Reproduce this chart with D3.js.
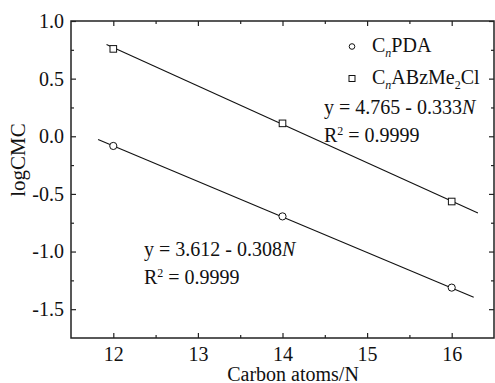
<!DOCTYPE html>
<html lang="en">
<head>
    <meta charset="UTF-8">
    <title>logCMC</title>
    <script src="https://unpkg.com/d3@7.8.5/dist/d3.min.js"></script>
    <style>
        body { margin: 0; background: #fff; }
        text { font-family: "Liberation Serif", "Times New Roman", serif; fill: #111; }
    </style>
</head>
<body>
    <svg width="495" height="383"></svg>
    <script>
        // 数据
        var carbons = [12, 14, 16]
        var pdaValues = [-0.084, -0.695, -1.313]
        var abzValues = [0.758, 0.112, -0.566]
        var xTicks = [12, 13, 14, 15, 16]
        var yTicks = [-1.5, -1.0, -0.5, 0.0, 0.5, 1.0]
        // 拟合直线 y = a + b*N
        var pdaFit = { a: 3.612, b: -0.308, from: 11.82, to: 16.26 }
        var abzFit = { a: 4.765, b: -0.333, from: 11.92, to: 16.31 }

        var svg = d3.select('svg')
        var pLeft = 71, pRight = 494, pTop = 21, pBottom = 338

        var x = d3.scaleLinear().domain([11.5, 16.5]).range([pLeft, pRight])
        var y = d3.scaleLinear().domain([-1.75, 1.0]).range([pBottom, pTop])

        var minorX = [12.5, 13.5, 14.5, 15.5]
        var minorY = [-1.25, -0.75, -0.25, 0.25, 0.75]

        // 用普通连字符代替 unicode 负号
        var fmtY = v => v.toFixed(1)

        function styleAxis(g) {
            g.attr('font-family', 'Liberation Serif').attr('font-size', 20)
            g.selectAll('path').remove()
            g.selectAll('line').attr('stroke', '#222').attr('stroke-width', 1.2)
            g.selectAll('text').attr('fill', '#111').style('font-family', '"Liberation Serif", serif')
        }

        // 主刻度
        svg.append('g').attr('transform', 'translate(0,' + pBottom + ')')
            .call(d3.axisBottom(x).tickValues(xTicks).tickSize(-5).tickPadding(9).tickFormat(d3.format('d')))
            .call(styleAxis)
        svg.append('g').attr('transform', 'translate(' + pLeft + ',0)')
            .call(d3.axisLeft(y).tickValues(yTicks).tickSize(-5).tickPadding(7).tickFormat(fmtY))
            .call(styleAxis)
        svg.append('g').attr('transform', 'translate(0,' + pTop + ')')
            .call(d3.axisTop(x).tickValues(xTicks).tickSize(-5).tickFormat(''))
            .call(styleAxis)
        svg.append('g').attr('transform', 'translate(' + pRight + ',0)')
            .call(d3.axisRight(y).tickValues(yTicks).tickSize(-5).tickFormat(''))
            .call(styleAxis)

        // 次刻度
        svg.append('g').attr('transform', 'translate(0,' + pBottom + ')')
            .call(d3.axisBottom(x).tickValues(minorX).tickSize(-3).tickFormat('')).call(styleAxis)
        svg.append('g').attr('transform', 'translate(0,' + pTop + ')')
            .call(d3.axisTop(x).tickValues(minorX).tickSize(-3).tickFormat('')).call(styleAxis)
        svg.append('g').attr('transform', 'translate(' + pLeft + ',0)')
            .call(d3.axisLeft(y).tickValues(minorY).tickSize(-3).tickFormat('')).call(styleAxis)
        svg.append('g').attr('transform', 'translate(' + pRight + ',0)')
            .call(d3.axisRight(y).tickValues(minorY).tickSize(-3).tickFormat('')).call(styleAxis)

        // 边框
        svg.append('rect')
            .attr('x', pLeft).attr('y', pTop)
            .attr('width', pRight - pLeft).attr('height', pBottom - pTop)
            .attr('fill', 'none').attr('stroke', '#222').attr('stroke-width', 1.5)

        // 拟合线
        var line = d3.line().x(d => x(d[0])).y(d => y(d[1]))
        ;[pdaFit, abzFit].forEach(f => {
            svg.append('path')
                .attr('d', line([[f.from, f.a + f.b * f.from], [f.to, f.a + f.b * f.to]]))
                .attr('stroke', '#111').attr('stroke-width', 1.1).attr('fill', 'none')
        })

        // 数据点
        svg.selectAll('circle.pda').data(carbons).enter()
            .append('circle').attr('class', 'pda')
            .attr('cx', d => x(d))
            .attr('cy', (d, i) => y(pdaValues[i]))
            .attr('r', 3.6)
            .attr('fill', 'white').attr('stroke', '#111').attr('stroke-width', 1)
        svg.selectAll('rect.abz').data(carbons).enter()
            .append('rect').attr('class', 'abz')
            .attr('x', d => x(d) - 3.3)
            .attr('y', (d, i) => y(abzValues[i]) - 3.3)
            .attr('width', 6.6).attr('height', 6.6)
            .attr('fill', 'white').attr('stroke', '#111').attr('stroke-width', 1)

        // 图例
        svg.append('circle').attr('cx', 352).attr('cy', 46.5).attr('r', 2.8)
            .attr('fill', 'white').attr('stroke', '#111').attr('stroke-width', 1)
        svg.append('rect').attr('x', 349).attr('y', 75.5).attr('width', 6).attr('height', 6)
            .attr('fill', 'white').attr('stroke', '#111').attr('stroke-width', 1)

        function sub(t, s, italic) {
            t.append('tspan').text(s).attr('font-size', '12px').attr('dy', 5)
                .attr('font-style', italic ? 'italic' : null)
        }

        var l1 = svg.append('text').attr('x', 372).attr('y', 52).attr('font-size', '20px')
        l1.append('tspan').text('C')
        sub(l1, 'n', true)
        l1.append('tspan').text('PDA').attr('dy', -5)

        var l2 = svg.append('text').attr('x', 372).attr('y', 84).attr('font-size', '20px')
        l2.append('tspan').text('C')
        sub(l2, 'n', true)
        l2.append('tspan').text('ABzMe').attr('dy', -5)
        sub(l2, '2', false)
        l2.append('tspan').text('Cl').attr('dy', -5)

        // 方程
        function equation(px, py, a, b) {
            var t = svg.append('text').attr('x', px).attr('y', py).attr('font-size', '20px')
            t.append('tspan').text('y = ' + a.toFixed(3) + ' - ' + Math.abs(b).toFixed(3))
            t.append('tspan').text('N').attr('font-style', 'italic')
            var r = svg.append('text').attr('x', px).attr('y', py + 28).attr('font-size', '20px')
            r.append('tspan').text('R')
            r.append('tspan').text('2').attr('font-size', '12px').attr('dy', -7)
            r.append('tspan').text(' = 0.9999').attr('dy', 7)
        }
        equation(324, 114, abzFit.a, abzFit.b)
        equation(144, 256, pdaFit.a, pdaFit.b)

        // 坐标轴标题
        svg.append('text').attr('x', 293).attr('y', 381)
            .attr('text-anchor', 'middle').attr('font-size', '20px').text('Carbon atoms/N')
        svg.append('text').attr('transform', 'translate(25,160) rotate(-90)')
            .attr('text-anchor', 'middle').attr('font-size', '21px').text('logCMC')
    </script>
</body>
</html>
